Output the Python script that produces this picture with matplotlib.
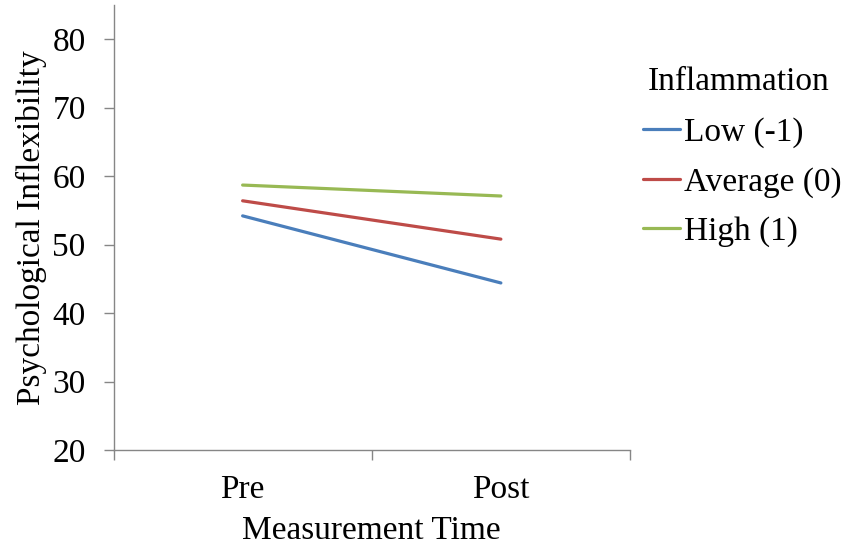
import matplotlib
matplotlib.use("Agg")
import matplotlib.pyplot as plt
from matplotlib.ticker import FixedLocator

categories = ["Pre", "Post"]
series_names = ["Low (-1)", "Average (0)", "High (1)"]
low = [54.2, 44.4]
average = [56.4, 50.8]
high = [58.7, 57.1]
colors = ["#4A7EBB", "#BE4B48", "#98B954"]
yticks = [20, 30, 40, 50, 60, 70, 80]

plt.rcParams['font.family'] = ['Liberation Serif', 'DejaVu Serif']
fs = 24

fig = plt.figure(figsize=(8.46, 5.52), dpi=100)
ax = fig.add_axes([113.5/846, 1-450/552, (630-113.5)/846, (450-5)/552])

x = list(range(len(categories)))
for vals, name, c in zip([low, average, high], series_names, colors):
    ax.plot(x, vals, color=c, lw=2.3, label=name, solid_capstyle='round')

ax.set_xlim(-0.5, 1.5)
ax.set_ylim(20, 85)
ax.set_yticks(yticks)
ax.set_xticks(x)
ax.set_xticklabels(categories)
ax.xaxis.set_minor_locator(FixedLocator([-0.5, 0.5, 1.5]))
ax.tick_params(axis='x', which='major', length=0, pad=18, labelsize=fs)
ax.tick_params(axis='x', which='minor', length=7, width=1, color='#868686', direction='out')
ax.tick_params(axis='y', length=7, width=1, color='#868686', pad=13, labelsize=fs, direction='out')

for s in ['top', 'right']:
    ax.spines[s].set_visible(False)
for s in ['left', 'bottom']:
    ax.spines[s].set_color('#868686')
    ax.spines[s].set_linewidth(1)

ax.set_xlabel("Measurement Time", fontsize=fs, labelpad=7)
ax.set_ylabel("Psychological Inflexibility", fontsize=fs, labelpad=4)

leg = ax.legend(title="Inflammation", loc='upper left', bbox_to_anchor=(643/846, 1-66/552),
                bbox_transform=fig.transFigure, frameon=False, fontsize=fs, title_fontsize=fs,
                handlelength=1.1, handletextpad=0.12, labelspacing=0.56, borderaxespad=0,
                borderpad=0)
leg._legend_box.align = "left"
leg._legend_box.sep = 15
for line in leg.get_lines():
    line.set_linewidth(2.3)
leg.get_title().set_x(5)

fig.savefig("out.png", dpi=100)
